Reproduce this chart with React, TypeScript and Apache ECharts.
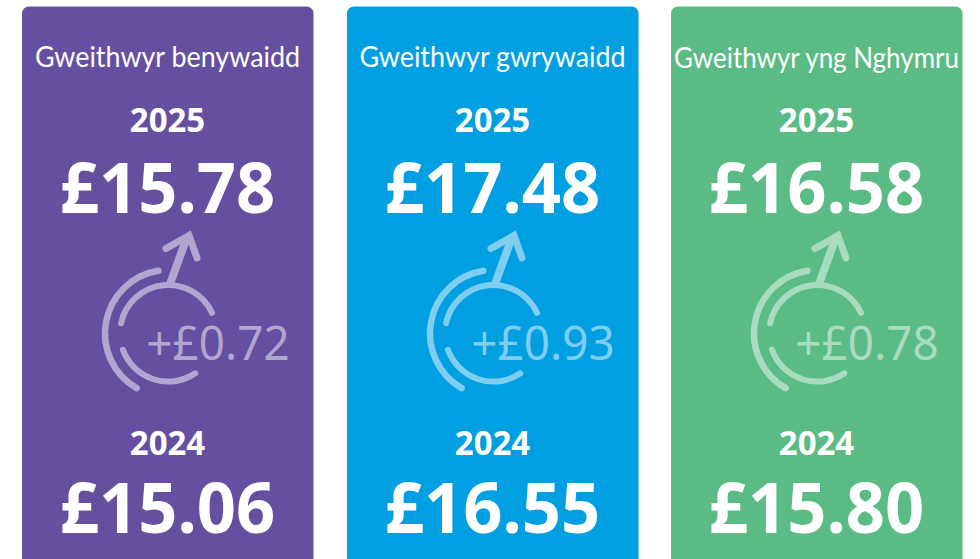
import React, { useEffect, useRef } from "react";
import * as echarts from "echarts";

const titles = ["Gweithwyr benywaidd", "Gweithwyr gwrywaidd", "Gweithwyr yng Nghymru"];
const years = ["2025", "2024"];
const values2025 = ["£15.78", "£17.48", "£16.58"];
const values2024 = ["£15.06", "£16.55", "£15.80"];
const changes = ["+£0.72", "+£0.93", "+£0.78"];
const cardColors = ["#654fa0", "#009fe1", "#5bbb85"];
const iconColors = ["#b1a6cf", "#7fcef0", "#a9dcbf"];

const FONT = "'Noto Sans', sans-serif";
const LATO = "Lato, sans-serif";
const rad = (d: number) => (d * Math.PI) / 180;

function card(i: number): any[] {
  const left = [22, 347, 671][i];
  const cx = left + 145.5;
  const ic = iconColors[i];
  const icx = cx + 0.8;
  const icy = 333.3;
  const arc = (r: number, a: number, b: number, w: number) => ({
    type: "arc",
    shape: { cx: icx, cy: icy, r, startAngle: rad(a), endAngle: rad(b), clockwise: true },
    style: { stroke: ic, lineWidth: w, lineCap: "round", fill: "none" },
  });
  // y is the wanted baseline; the text box is placed from its top edge
  const text = (t: string, x: number, y: number, size: number, weight: any, fill: string, fam = FONT, sx = 1, asc = 0.89) => ({
    type: "text",
    x,
    y: y - asc * size,
    scaleX: sx,
    style: { text: t, fill, font: `${weight} ${size}px ${fam}`, textAlign: "center", textBaseline: "top" },
  });
  const ox = cx - 167.5;
  return [
    { type: "rect", shape: { x: left, y: 6.5, width: 291.5, height: 600, r: 7 }, style: { fill: cardColors[i] } },
    text(titles[i], cx, 66, 28, 400, "#ffffff", LATO, i === 2 ? 0.927 : 0.96, 0.83),
    text(years[0], cx, 132, 34, 700, "#ffffff", FONT, 0.97),
    text(values2025[i], cx, 213, 70, 700, "#ffffff", FONT, 0.98),
    arc(48.3, 192, 335, 6),
    arc(48.3, 56, 160, 6),
    arc(63.3, 120, 261, 6.5),
    { type: "line", shape: { x1: 170 + ox, y1: 284, x2: 186 + ox, y2: 240 }, style: { stroke: ic, lineWidth: 8 } },
    {
      type: "polyline",
      shape: { points: [[166 + ox, 248.5], [189 + ox, 235.5], [197 + ox, 258]] },
      style: { stroke: ic, lineWidth: 7, lineCap: "round", lineJoin: "miter", fill: "none" },
    },
    text(changes[i], cx + 50.5, 360, 47, 400, ic, FONT, 0.975),
    text(years[1], cx, 455, 34, 700, "#ffffff", FONT, 0.97),
    text(values2024[i], cx, 533, 70, 700, "#ffffff", FONT, 0.98),
  ];
}

export default function App() {
  const ref = useRef<HTMLDivElement>(null);
  useEffect(() => {
    const chart = echarts.init(ref.current!, undefined, { renderer: "svg" });
    chart.setOption({
      animation: false,
      backgroundColor: "#ffffff",
      graphic: { elements: [0, 1, 2].flatMap(card) },
    });
    return () => chart.dispose();
  }, []);
  return <div ref={ref} style={{ position: "fixed", left: 0, top: 0, width: 980, height: 559 }} />;
}
